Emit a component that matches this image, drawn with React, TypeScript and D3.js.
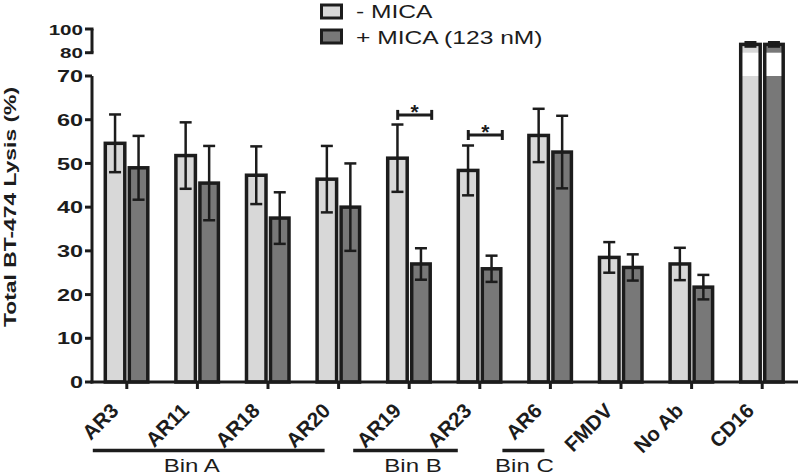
import React from "react";
import * as d3 from "d3";

const categories = ["AR3", "AR11", "AR18", "AR20", "AR19", "AR23", "AR6", "FMDV", "No Ab", "CD16"];
const minusMica = [54.6, 51.8, 47.3, 46.4, 51.2, 48.4, 56.4, 28.5, 27.0, 87.0];
const minusErr = [6.6, 7.6, 6.6, 7.6, 7.7, 5.7, 6.1, 3.5, 3.7, 1.8];
const plusMica = [49.0, 45.5, 37.5, 40.0, 27.0, 25.9, 52.6, 26.2, 21.7, 87.0];
const plusErr = [7.3, 8.5, 5.9, 10.0, 3.6, 3.0, 8.3, 3.0, 2.8, 1.8];
const lowerTicks = [0, 10, 20, 30, 40, 50, 60, 70];
const upperTicks = [80, 100];
const legendLabels = ["- MICA", "+ MICA (123 nM)"];
const bins = [
  { label: "Bin A", first: "AR3", last: "AR20" },
  { label: "Bin B", first: "AR19", last: "AR23" },
  { label: "Bin C", first: "AR6", last: "AR6" },
];
const significance = [
  { cat: "AR19", level: 61.1 },
  { cat: "AR23", level: 56.5 },
];

// layout (not data)
const binLayout = [
  { s: -34, e: -14, t: -17 },
  { s: -56, e: -22, t: 7.5 },
  { s: -48, e: -6, t: 1 },
];

const FONT = "'Liberation Sans', Arial, Helvetica, sans-serif";
const LIGHT = "#d8d8d8";
const DARK = "#787878";
const INK = "#1c1c1c";

export default function App() {
  const x = d3.scaleBand<string>().domain(categories).range([91.5, 797.5]);
  const y = d3.scaleLinear().domain([0, 70]).range([382, 76]);
  const yTop = d3.scaleLinear().domain([80, 100]).range([52.7, 29]);
  const c = (k: string) => (x(k) as number) + x.bandwidth() / 2;
  const yv = (v: number) => (v > 70 ? yTop(v) : y(v));

  const series = [
    { vals: minusMica, errs: minusErr, fill: LIGHT, off: -21.5, w: 19.5 },
    { vals: plusMica, errs: plusErr, fill: DARK, off: 2.5, w: 18.5 },
  ];

  return (
    <div style={{ position: "fixed", left: 0, top: 0 }}>
      <svg width={800} height={475} style={{ display: "block", background: "#fff" }} fontFamily={FONT}>
        {/* bars */}
        {series.map((s, si) =>
          categories.map((k, i) => {
            const v = s.vals[i];
            const bx = c(k) + s.off;
            if (v > 70) {
              return (
                <g key={`b${si}-${i}`}>
                  <rect x={bx} y={yTop(v)} width={s.w} height={y(0) - yTop(v)} fill="#fff" />
                  <rect x={bx} y={y(70)} width={s.w} height={y(0) - y(70)} fill={s.fill} />
                  <rect x={bx} y={yTop(v)} width={s.w} height={yTop(80) - yTop(v)} fill={s.fill} />
                  <rect x={bx} y={yTop(v)} width={s.w} height={y(0) - yTop(v)} fill="none" stroke={INK} strokeWidth={3.5} />
                </g>
              );
            }
            return (
              <rect key={`b${si}-${i}`} x={bx} y={y(v)} width={s.w} height={y(0) - y(v)} fill={s.fill} stroke={INK} strokeWidth={3.5} />
            );
          })
        )}
        {/* error bars */}
        {series.map((s, si) =>
          categories.map((k, i) => {
            const v = s.vals[i];
            const e = s.errs[i];
            const cx = c(k) + s.off + s.w / 2;
            const y1 = yv(v + e);
            const y2 = v > 70 ? yTop(v - e) : y(v - e);
            return (
              <g key={`e${si}-${i}`} stroke={INK} strokeWidth={2.5}>
                <line x1={cx} x2={cx} y1={y1} y2={y2} />
                <line x1={cx - 6} x2={cx + 6} y1={y1} y2={y1} />
                <line x1={cx - 6} x2={cx + 6} y1={y2} y2={y2} />
              </g>
            );
          })
        )}
        {/* significance brackets */}
        {significance.map((s) => {
          const x1 = c(s.cat) - 11.5;
          const x2 = c(s.cat) + 22.5;
          const yy = y(s.level);
          return (
            <g key={s.cat}>
              <g stroke={INK} strokeWidth={3}>
                <line x1={x1} x2={x2} y1={yy} y2={yy} />
                <line x1={x1} x2={x1} y1={yy - 5} y2={yy + 5} />
                <line x1={x2} x2={x2} y1={yy - 5} y2={yy + 5} />
              </g>
              <text x={(x1 + x2) / 2} y={yy + 4} textAnchor="middle" fontSize={21} fontWeight="bold" fill={INK}>
                *
              </text>
            </g>
          );
        })}
        {/* y axis lower */}
        <line x1={92} x2={92} y1={y(70)} y2={y(0) + 1.5} stroke={INK} strokeWidth={3} />
        {lowerTicks.map((t) => (
          <g key={`lt${t}`}>
            <line x1={85} x2={92} y1={y(t)} y2={y(t)} stroke={INK} strokeWidth={3} />
            <text
              transform={`translate(83,${y(t) + 6.2}) scale(1.38,1)`}
              textAnchor="end"
              fontSize={17}
              fontWeight="bold"
              fill={INK}
            >
              {t}
            </text>
          </g>
        ))}
        {/* y axis upper */}
        <line x1={92} x2={92} y1={yTop(100)} y2={yTop(80)} stroke={INK} strokeWidth={3} />
        {upperTicks.map((t) => (
          <g key={`ut${t}`}>
            <line x1={85} x2={93.5} y1={yTop(t)} y2={yTop(t)} stroke={INK} strokeWidth={3} />
            <text
              transform={`translate(83,${yTop(t) + 5.5}) scale(1.33,1)`}
              textAnchor="end"
              fontSize={15.5}
              fontWeight="bold"
              fill={INK}
            >
              {t}
            </text>
          </g>
        ))}
        {/* x axis */}
        <line x1={90.5} x2={798} y1={y(0)} y2={y(0)} stroke={INK} strokeWidth={3} />
        {categories.map((k) => (
          <g key={`xt${k}`}>
            <line x1={c(k)} x2={c(k)} y1={y(0)} y2={y(0) + 7} stroke={INK} strokeWidth={3} />
            <text
              transform={`translate(${c(k) - 7},${412}) rotate(-45)`}
              textAnchor="end"
              fontSize={20.5}
              fontWeight="bold"
              fill={INK}
            >
              {k}
            </text>
          </g>
        ))}
        {/* bins */}
        {bins.map((b, i) => {
          const l = binLayout[i];
          const x1 = c(b.first) + l.s;
          const x2 = c(b.last) + l.e;
          const tx = (x1 + x2) / 2 + l.t;
          return (
            <g key={b.label}>
              <line x1={x1} x2={x2} y1={450.5} y2={450.5} stroke={INK} strokeWidth={3.5} />
              <text transform={`translate(${tx},471.5) scale(1.3,1)`} textAnchor="middle" fontSize={18.5} fill={INK}>
                {b.label}
              </text>
            </g>
          );
        })}
        {/* y title */}
        <text
          transform="translate(16,207) rotate(-90)"
          textAnchor="middle"
          fontSize={17}
          fontWeight="bold"
          fill={INK}
          textLength={240}
          lengthAdjust="spacingAndGlyphs"
        >
          Total BT-474 Lysis (%)
        </text>
        {/* legend */}
        {legendLabels.map((lab, i) => (
          <g key={lab}>
            <rect x={321.5} y={5 + i * 25} width={20} height={13} fill={i === 0 ? LIGHT : DARK} stroke={INK} strokeWidth={3} />
            <text transform={`translate(356,${17.5 + i * 26.5}) scale(1.33,1)`} fontSize={18.5} fill={INK}>
              {lab}
            </text>
          </g>
        ))}
      </svg>
    </div>
  );
}
